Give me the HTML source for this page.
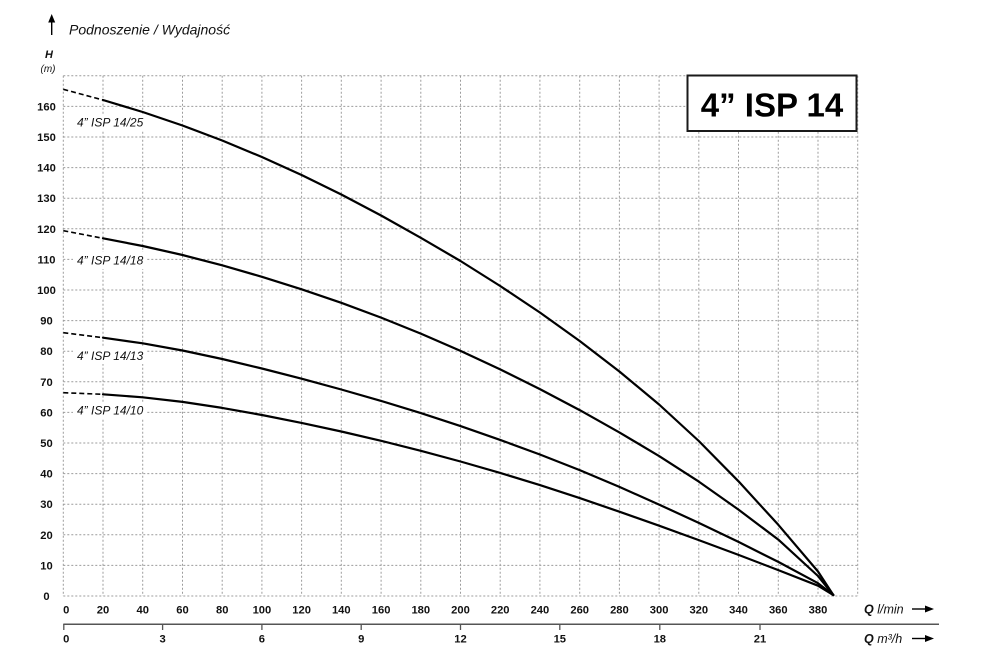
<!DOCTYPE html>
<html>
<head>
<meta charset="utf-8">
<style>
html,body{margin:0;padding:0;background:#fff;}
svg{display:block;}
text{font-family:"Liberation Sans",sans-serif;fill:#111;}
.yl{font-size:11.2px;font-weight:bold;text-anchor:middle;}
.xl{font-size:11.2px;font-weight:bold;text-anchor:middle;}
.cl{font-size:12px;font-style:italic;}
</style>
</head>
<body>
<svg width="989" height="667" viewBox="0 0 989 667" xmlns="http://www.w3.org/2000/svg">
<rect width="989" height="667" fill="#fff"/>
<!-- grid -->
<g stroke="#9c9c9c" stroke-width="1" stroke-dasharray="2 2" fill="none">
<line x1="63.3" y1="75.8" x2="63.3" y2="596"/>
<line x1="103.0" y1="75.8" x2="103.0" y2="596"/>
<line x1="142.7" y1="75.8" x2="142.7" y2="596"/>
<line x1="182.5" y1="75.8" x2="182.5" y2="596"/>
<line x1="222.2" y1="75.8" x2="222.2" y2="596"/>
<line x1="261.9" y1="75.8" x2="261.9" y2="596"/>
<line x1="301.6" y1="75.8" x2="301.6" y2="596"/>
<line x1="341.3" y1="75.8" x2="341.3" y2="596"/>
<line x1="381.1" y1="75.8" x2="381.1" y2="596"/>
<line x1="420.8" y1="75.8" x2="420.8" y2="596"/>
<line x1="460.5" y1="75.8" x2="460.5" y2="596"/>
<line x1="500.2" y1="75.8" x2="500.2" y2="596"/>
<line x1="539.9" y1="75.8" x2="539.9" y2="596"/>
<line x1="579.7" y1="75.8" x2="579.7" y2="596"/>
<line x1="619.4" y1="75.8" x2="619.4" y2="596"/>
<line x1="659.1" y1="75.8" x2="659.1" y2="596"/>
<line x1="698.8" y1="75.8" x2="698.8" y2="596"/>
<line x1="738.5" y1="75.8" x2="738.5" y2="596"/>
<line x1="778.3" y1="75.8" x2="778.3" y2="596"/>
<line x1="818.0" y1="75.8" x2="818.0" y2="596"/>
<line x1="857.7" y1="75.8" x2="857.7" y2="596"/>
<line x1="63.3" y1="596" x2="857.7" y2="596"/>
<line x1="63.3" y1="565.4" x2="857.7" y2="565.4"/>
<line x1="63.3" y1="534.8" x2="857.7" y2="534.8"/>
<line x1="63.3" y1="504.2" x2="857.7" y2="504.2"/>
<line x1="63.3" y1="473.6" x2="857.7" y2="473.6"/>
<line x1="63.3" y1="443" x2="857.7" y2="443"/>
<line x1="63.3" y1="412.4" x2="857.7" y2="412.4"/>
<line x1="63.3" y1="381.8" x2="857.7" y2="381.8"/>
<line x1="63.3" y1="351.2" x2="857.7" y2="351.2"/>
<line x1="63.3" y1="320.6" x2="857.7" y2="320.6"/>
<line x1="63.3" y1="290" x2="857.7" y2="290"/>
<line x1="63.3" y1="259.4" x2="857.7" y2="259.4"/>
<line x1="63.3" y1="228.8" x2="857.7" y2="228.8"/>
<line x1="63.3" y1="198.2" x2="857.7" y2="198.2"/>
<line x1="63.3" y1="167.6" x2="857.7" y2="167.6"/>
<line x1="63.3" y1="137" x2="857.7" y2="137"/>
<line x1="63.3" y1="106.4" x2="857.7" y2="106.4"/>
<line x1="63.3" y1="75.8" x2="857.7" y2="75.8"/>
</g>

<!-- title box -->
<rect x="687.5" y="75.5" width="169" height="55.5" fill="#fff" stroke="#1a1a1a" stroke-width="2"/>
<text x="772" y="116.7" text-anchor="middle" style="font-size:33px;font-weight:bold;fill:#000;">4” ISP 14</text>

<!-- curve label backgrounds -->
<g fill="#fff">
<rect x="73" y="114" width="73" height="17"/>
<rect x="73" y="252" width="73" height="17"/>
<rect x="73" y="347" width="73" height="17"/>
<rect x="73" y="402" width="73" height="17"/>
</g>
<text class="cl" x="77" y="126.5">4” ISP 14/25</text>
<text class="cl" x="77" y="264.3">4” ISP 14/18</text>
<text class="cl" x="77" y="360">4” ISP 14/13</text>
<text class="cl" x="77" y="414.3">4” ISP 14/10</text>

<!-- curves -->
<g fill="none" stroke="#000" stroke-width="2.2" stroke-linejoin="round" stroke-linecap="round">
<polyline points="103,100 142.7,112 182.5,125.5 222.2,140.5 261.9,157 301.6,175 341.3,194.5 381.1,215.5 420.8,237.8 460.5,261 500.2,286 539.9,312.5 579.7,341 619.4,371.5 659.1,404.5 698.8,441 738.5,481.3 778.3,524.8 818,571.5 833.3,595"/>
<polyline points="103,238.3 142.7,246 182.5,255 222.2,265.3 261.9,276.8 301.6,289.3 341.3,302.8 381.1,317.6 420.8,333.6 460.5,350.9 500.2,369.4 539.9,389.1 579.7,410.1 619.4,432.4 659.1,456.1 698.8,481.6 738.5,509.6 778.3,539.6 818,576 833.3,595"/>
<polyline points="103,337.7 142.7,343.3 182.5,350.5 222.2,359 261.9,368.5 301.6,378.7 341.3,389.5 381.1,400.9 420.8,413.1 460.5,426.1 500.2,439.9 539.9,454.5 579.7,470.1 619.4,486.9 659.1,504.6 698.8,522.9 738.5,541.9 778.3,561.9 818,583.2 833.3,595"/>
<polyline points="103,394.3 142.7,397.3 182.5,401.9 222.2,407.9 261.9,415 301.6,422.9 341.3,431.5 381.1,440.8 420.8,450.8 460.5,461.5 500.2,472.9 539.9,485.1 579.7,498.1 619.4,511.7 659.1,525.7 698.8,540.1 738.5,554.9 778.3,570.1 818,585.7 833.3,595"/>
</g>
<g fill="none" stroke="#000" stroke-width="1.6" stroke-dasharray="5 3">
<line x1="63.3" y1="89.3" x2="103" y2="100"/>
<line x1="63.3" y1="230.7" x2="103" y2="238.3"/>
<line x1="63.3" y1="332.7" x2="103" y2="337.7"/>
<line x1="63.3" y1="392.7" x2="103" y2="394.3"/>
</g>

<!-- y labels -->
<text class="yl" x="46.5" y="600">0</text>
<text class="yl" x="46.5" y="569.4">10</text>
<text class="yl" x="46.5" y="538.8">20</text>
<text class="yl" x="46.5" y="508.2">30</text>
<text class="yl" x="46.5" y="477.6">40</text>
<text class="yl" x="46.5" y="447">50</text>
<text class="yl" x="46.5" y="416.4">60</text>
<text class="yl" x="46.5" y="385.8">70</text>
<text class="yl" x="46.5" y="355.2">80</text>
<text class="yl" x="46.5" y="324.6">90</text>
<text class="yl" x="46.5" y="294">100</text>
<text class="yl" x="46.5" y="263.4">110</text>
<text class="yl" x="46.5" y="232.8">120</text>
<text class="yl" x="46.5" y="202.2">130</text>
<text class="yl" x="46.5" y="171.6">140</text>
<text class="yl" x="46.5" y="141">150</text>
<text class="yl" x="46.5" y="110.4">160</text>

<!-- x labels l/min -->
<text class="xl" x="66.3" y="613.3">0</text>
<text class="xl" x="103.0" y="613.3">20</text>
<text class="xl" x="142.7" y="613.3">40</text>
<text class="xl" x="182.5" y="613.3">60</text>
<text class="xl" x="222.2" y="613.3">80</text>
<text class="xl" x="261.9" y="613.3">100</text>
<text class="xl" x="301.6" y="613.3">120</text>
<text class="xl" x="341.3" y="613.3">140</text>
<text class="xl" x="381.1" y="613.3">160</text>
<text class="xl" x="420.8" y="613.3">180</text>
<text class="xl" x="460.5" y="613.3">200</text>
<text class="xl" x="500.2" y="613.3">220</text>
<text class="xl" x="539.9" y="613.3">240</text>
<text class="xl" x="579.7" y="613.3">260</text>
<text class="xl" x="619.4" y="613.3">280</text>
<text class="xl" x="659.1" y="613.3">300</text>
<text class="xl" x="698.8" y="613.3">320</text>
<text class="xl" x="738.5" y="613.3">340</text>
<text class="xl" x="778.3" y="613.3">360</text>
<text class="xl" x="818.0" y="613.3">380</text>

<!-- second axis -->
<line x1="63.3" y1="624.3" x2="939" y2="624.3" stroke="#555" stroke-width="1.5"/>
<g stroke="#555" stroke-width="1.3">
<line x1="63.8" y1="624" x2="63.8" y2="630"/>
<line x1="162.6" y1="624" x2="162.6" y2="630"/>
<line x1="261.9" y1="624" x2="261.9" y2="630"/>
<line x1="361.2" y1="624" x2="361.2" y2="630"/>
<line x1="460.5" y1="624" x2="460.5" y2="630"/>
<line x1="559.8" y1="624" x2="559.8" y2="630"/>
<line x1="659.8" y1="624" x2="659.8" y2="630"/>
<line x1="760" y1="624" x2="760" y2="630"/>
</g>
<text class="xl" x="66.3" y="642.5">0</text>
<text class="xl" x="162.6" y="642.5">3</text>
<text class="xl" x="261.9" y="642.5">6</text>
<text class="xl" x="361.2" y="642.5">9</text>
<text class="xl" x="460.5" y="642.5">12</text>
<text class="xl" x="559.8" y="642.5">15</text>
<text class="xl" x="659.8" y="642.5">18</text>
<text class="xl" x="760" y="642.5">21</text>

<!-- axis unit labels -->
<text x="864" y="613.5" style="font-size:12.5px;font-style:italic;"><tspan style="font-weight:bold;">Q</tspan> l/min</text>
<text x="864" y="643" style="font-size:12.5px;font-style:italic;"><tspan style="font-weight:bold;">Q</tspan> m³/h</text>
<g stroke="#000" stroke-width="1.4">
<line x1="912" y1="609" x2="928" y2="609"/>
<line x1="912" y1="638.5" x2="928" y2="638.5"/>
</g>
<polygon points="934,609 925,605.5 925,612.5" fill="#000"/>
<polygon points="934,638.5 925,635 925,642" fill="#000"/>

<!-- top arrow & title -->
<line x1="51.7" y1="35" x2="51.7" y2="20" stroke="#000" stroke-width="1.4"/>
<polygon points="51.7,14 48.2,22.5 55.2,22.5" fill="#000"/>
<text x="69" y="34.5" style="font-size:14px;font-style:italic;">Podnoszenie / Wydajność</text>
<text x="49" y="58" text-anchor="middle" style="font-size:11px;font-weight:bold;font-style:italic;">H</text>
<text x="48" y="72" text-anchor="middle" style="font-size:10px;font-style:italic;">(m)</text>
</svg>
</body>
</html>
